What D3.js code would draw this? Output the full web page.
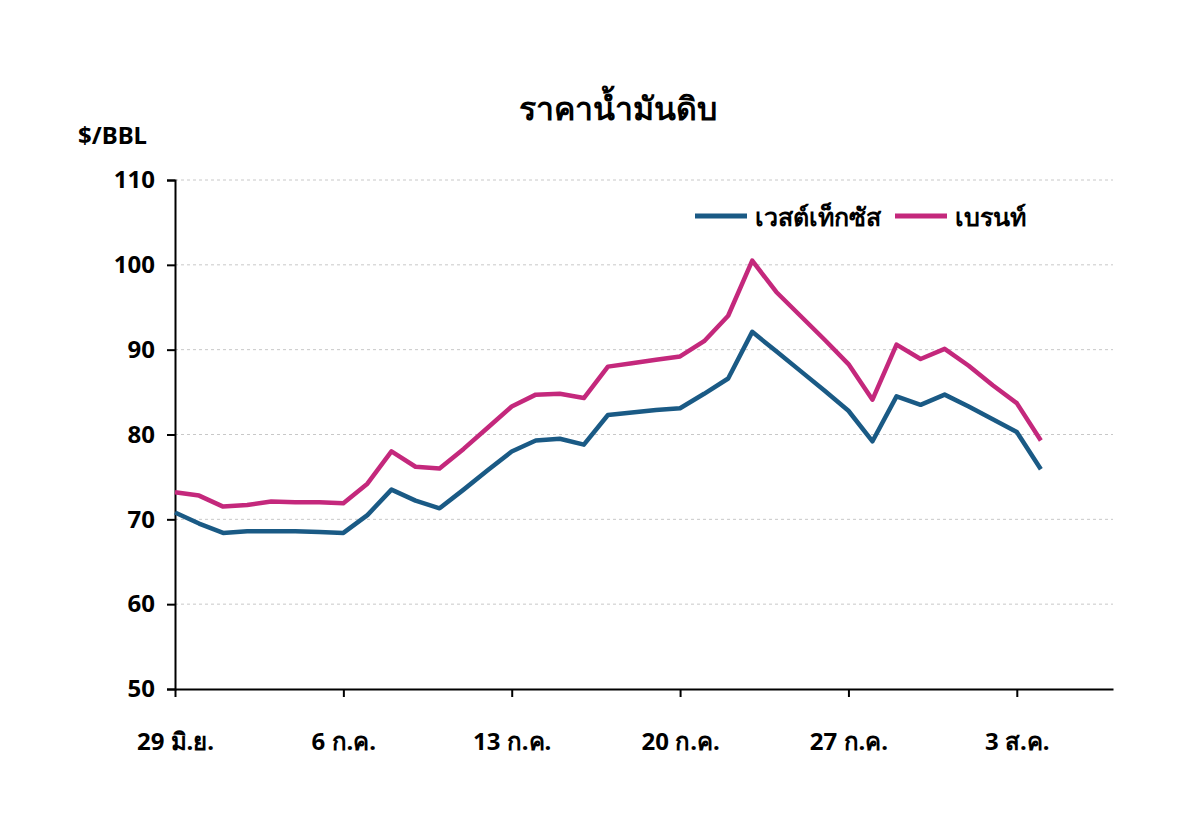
<!DOCTYPE html>
<html><head><meta charset="utf-8">
<script src="https://cdn.jsdelivr.net/npm/d3@7"></script>
<style>body{margin:0;background:#fff}text{font-family:"Noto Sans","DejaVu Sans",sans-serif;font-weight:bold}</style>
</head><body><svg id="c" width="1200" height="836"></svg>
<script>
const days = d3.range(37);
const wti = [70.8,69.5,68.4,68.6,68.6,68.6,68.5,68.4,70.5,73.5,72.2,71.3,73.5,75.8,78.0,79.3,79.5,78.8,82.3,82.6,82.9,83.1,84.8,86.6,92.1,89.8,87.5,85.2,82.8,79.2,84.5,83.5,84.7,83.3,81.8,80.3,75.9];
const brent = [73.2,72.8,71.5,71.7,72.1,72.0,72.0,71.9,74.2,78.0,76.2,76.0,78.3,80.8,83.3,84.7,84.8,84.3,88.0,88.4,88.8,89.2,91.0,94.0,100.5,96.8,94.0,91.2,88.3,84.1,90.6,88.9,90.1,88.1,85.8,83.7,79.3];
const xTickDays = [0,7,14,21,28,35];
const xTickLabels = ["29 มิ.ย.","6 ก.ค.","13 ก.ค.","20 ก.ค.","27 ก.ค.","3 ส.ค."];
const yTicks = [50,60,70,80,90,100,110];
const seriesNames = ["เวสต์เท็กซัส","เบรนท์"];
const colors = ["#1a5a85","#c4287c"];

const svg = d3.select("#c");
const x = d3.scaleLinear().domain([0,39]).range([175,1113]);
const y = d3.scaleLinear().domain([50,110]).range([689,180]);

svg.append("text").attr("x",618).attr("y",120).attr("text-anchor","middle").attr("font-size",32).text("ราคาน้ำมันดิบ");
svg.append("text").attr("x",78).attr("y",144).attr("font-size",24).text("$/BBL");

svg.append("g").selectAll("line").data(yTicks.slice(1)).join("line")
 .attr("x1",175).attr("x2",1113).attr("y1",d=>y(d)).attr("y2",d=>y(d))
 .attr("stroke","#c8c8c8").attr("stroke-dasharray","3,3");

const ya = svg.append("g").attr("transform","translate(175,0)")
 .call(d3.axisLeft(y).tickValues(yTicks).tickSize(8).tickPadding(12));
ya.selectAll("text").attr("font-size",24).attr("fill","#000");
ya.select(".domain").attr("stroke","#000").attr("stroke-width",2);
ya.selectAll(".tick line").attr("stroke","#000").attr("stroke-width",2);

const xa = svg.append("g").attr("transform","translate(0,689)")
 .call(d3.axisBottom(x).tickValues(xTickDays).tickFormat((d,i)=>xTickLabels[i]).tickSize(8).tickPadding(36).tickSizeOuter(0));
xa.selectAll("text").attr("font-size",24).attr("fill","#000");
xa.select(".domain").attr("stroke","#000").attr("stroke-width",2);
xa.selectAll(".tick line").attr("stroke","#000").attr("stroke-width",2);

const line = d3.line().x((d,i)=>x(i)).y(d=>y(d));
[wti,brent].forEach((s,k)=>{
 svg.append("path").datum(s).attr("d",line).attr("fill","none")
  .attr("stroke",colors[k]).attr("stroke-width",4.5).attr("stroke-linejoin","round");
});

// legend
let lx = 695;
seriesNames.forEach((n,k)=>{
 svg.append("line").attr("x1",lx).attr("x2",lx+52).attr("y1",216).attr("y2",216)
  .attr("stroke",colors[k]).attr("stroke-width",5);
 const t = svg.append("text").attr("x",lx+60).attr("y",226).attr("font-size",25).text(n);
 lx = lx + 60 + t.node().getComputedTextLength() + 14;
});
</script></body></html>
